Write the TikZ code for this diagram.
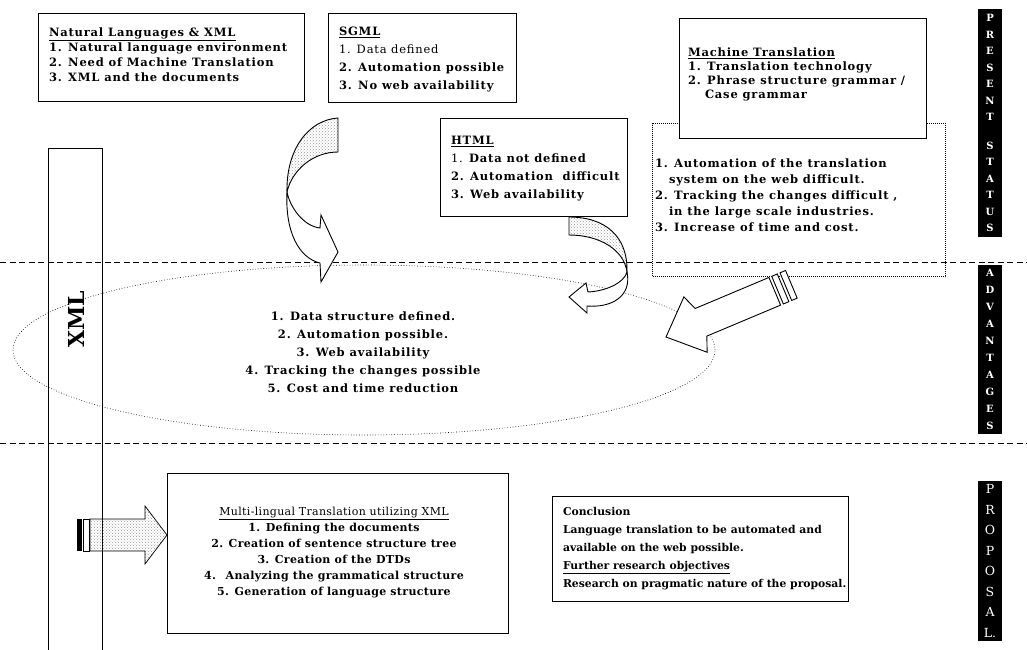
\documentclass[tikz,border=0pt]{standalone}
\usepackage{fontspec}
\setmainfont{DejaVu Serif}
\newfontfamily\widefont[LetterSpace=7]{DejaVu Serif}
\newfontfamily\semifont[LetterSpace=3]{DejaVu Serif}
\usetikzlibrary{shapes.geometric,patterns}
\newcommand\undl[1]{\underline{#1}}

\begin{document}
\begin{tikzpicture}[x=1pt,y=-1pt,
  frame/.style={draw, line width=0.8pt, fill=white, inner sep=0pt, outer sep=0pt, anchor=north west},
  txt/.style={inner sep=0pt, outer sep=0pt, align=left, anchor=north west},
  sep/.style={line width=1pt, dash pattern=on 6pt off 3.5pt},
  band/.style={draw, line width=0.9pt, fill=white, line join=miter},
  stipple/.style={draw, line width=0.9pt, pattern=crosshatch dots, pattern color=black!40},
  tab/.style={fill=black, text=white, inner sep=0pt, minimum width=24pt, anchor=north, align=center}
]
\useasboundingbox (0,0) rectangle (1027,649);
\clip (0,0) rectangle (1027,649);

% section separators
\coordinate (s1l) at (0,262);   \coordinate (s1r) at (1027,262);
\coordinate (s2l) at (0,443);   \coordinate (s2r) at (1027,443);
\draw[sep] (s1l) -- (s1r);
\draw[sep] (s2l) -- (s2r);

% advantages ellipse
\node[ellipse, draw, line width=0.6pt, dash pattern=on 0.7pt off 2pt, inner sep=0pt,
      minimum width=702pt, minimum height=170pt] (adv) at (364,350) {};
\node[inner sep=0pt, align=center, anchor=north, font=\widefont\bfseries\fontsize{11.5}{18}\selectfont] (advt) at (363,312)
  {1. Data structure defined.\\2. Automation possible.\\3. Web availability\\4. Tracking the changes possible\\5. Cost and time reduction};

% XML column
\node[draw, line width=0.9pt, inner sep=0pt, minimum width=54pt, minimum height=530pt, anchor=north] (xmlbar) at (75,148) {};
\node[rotate=90, inner sep=0pt, font=\bfseries\fontsize{22}{22}\selectfont] (xmllabel) at (76,319) {XML};

% present status boxes
\node[frame, minimum width=266pt, minimum height=88pt] (nl) at (38,13) {};
\node[txt, font=\widefont\bfseries\fontsize{11.5}{15}\selectfont] (nlt) at (49,28)
  {\undl{Natural Languages \& XML}\\1. Natural language environment\\2. Need of Machine Translation\\3. XML and the documents};

\node[frame, minimum width=188pt, minimum height=89pt] (sgml) at (328,13) {};
\node[txt, font=\widefont\bfseries\fontsize{11.5}{18}\selectfont] (sgmlt) at (339,27)
  {\undl{SGML}\\{\mdseries 1. Data defined}\\2. Automation possible\\3. No web availability};

\node[frame, minimum width=187pt, minimum height=98pt] (html) at (440,118) {};
\node[txt, font=\widefont\bfseries\fontsize{11.5}{18}\selectfont] (htmlt) at (451,136)
  {\undl{HTML}\\{\mdseries 1.} Data not defined\\2. Automation~ difficult\\3. Web availability};

\node[draw, line width=1pt, dash pattern=on 1pt off 1pt, inner sep=0pt, anchor=north west,
      minimum width=293pt, minimum height=153pt] (issues) at (652,123) {};
\node[txt, font=\widefont\bfseries\fontsize{11.5}{16}\selectfont] (issuest) at (655,159)
  {1. Automation of the translation\\\hspace*{14pt}system on the web difficult.\\2. Tracking the changes difficult ,\\\hspace*{14pt}in the large scale industries.\\3. Increase of time and cost.};

\node[frame, minimum width=247pt, minimum height=120pt] (mt) at (679,18) {};
\node[txt, font=\widefont\bfseries\fontsize{11.5}{14}\selectfont] (mtt) at (688,48)
  {\undl{Machine Translation}\\1. Translation technology\\2. Phrase structure grammar /\\\hspace*{17pt}Case grammar};

% proposal boxes
\node[frame, minimum width=341pt, minimum height=160pt] (multi) at (167,473) {};
\node[inner sep=0pt, align=center, anchor=north, font=\semifont\bfseries\fontsize{11}{16}\selectfont] (multit) at (334,507)
  {{\mdseries\undl{Multi-lingual Translation utilizing XML}}\\1. Defining the documents\\2. Creation of sentence structure tree\\3. Creation of the DTDs\\4.~ Analyzing the grammatical structure\\5. Generation of language structure};

\node[frame, minimum width=296pt, minimum height=105pt] (concl) at (552,496) {};
\node[txt, font=\bfseries\fontsize{10.8}{18}\selectfont] (conclt) at (563,507)
  {Conclusion\\ Language translation to be automated and\\ available on the web possible.\\ \undl{Further research objectives}\\ Research on pragmatic nature of the proposal.};

% section tabs
\node[tab, minimum height=228pt, font=\bfseries\fontsize{10}{16.5}\selectfont] (tps) at (990,9)
  {P\\R\\E\\S\\E\\N\\T\\[12pt]S\\T\\A\\T\\U\\S};
\node[tab, minimum height=169pt, font=\bfseries\fontsize{10}{17}\selectfont] (tadv) at (990,265)
  {A\\D\\V\\A\\N\\T\\A\\G\\E\\S};
\node[tab, minimum height=160pt, font=\fontsize{12.5}{20.5}\selectfont] (tprop) at (990,481)
  {P\\R\\O\\P\\O\\S\\A\\L.};

% curved arrow below SGML
\draw[stipple] (338,118) .. controls (308,120) and (286,150) .. (287,192)
  .. controls (292,170) and (313,152) .. (338,152) -- cycle;
\draw[band] (287,192) .. controls (290,207) and (303,226) .. (320,228) -- (321,215) -- (338,252)
  -- (321,282) -- (320,263) .. controls (299,258) and (285,232) .. (287,192) -- cycle;

% curved arrow below HTML
\draw[stipple] (569,217) .. controls (605,217) and (628,236) .. (627,272)
  .. controls (624,250) and (600,235) .. (569,235) -- cycle;
\draw[band] (627,272) .. controls (624,283) and (606,291) .. (588,292) -- (586,283) -- (569,297)
  -- (587,313) -- (587,306) .. controls (612,308) and (632,296) .. (627,272) -- cycle;

% straight arrow from machine translation
\begin{scope}[shift={(666,337)}, rotate=22.8]
  \draw[band] (0,0) -- (32,-30) -- (38,-15) -- (118,-15) -- (118,15) -- (38,15) -- (32,30) -- cycle;
  \draw[band] (121,-15) rectangle (127,15);
  \draw[band] (130,-15) rectangle (136,15);
\end{scope}

% arrow from XML to the proposal
\fill (77,519) rectangle (82,551);
\draw[band, line width=0.7pt] (83,519) rectangle (89,551);
\draw[stipple, line width=0.7pt] (90,519) -- (145,519) -- (145,506) -- (167,535) -- (145,564) -- (145,551) -- (90,551) -- cycle;
\end{tikzpicture}
\end{document}
